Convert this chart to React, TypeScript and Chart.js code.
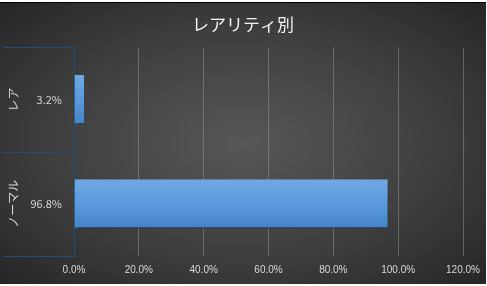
import React, { useEffect, useRef } from "react";
import { Chart, registerables } from "chart.js";

Chart.register(...registerables);

const TITLE = "レアリティ別";
const outerLabels = ["レア", "ノーマル"];
const innerLabels = ["3.2%", "96.8%"];
const shares = [0.032, 0.968];
const xTicksMax = 1.2;
const xTickStep = 0.2;

const AXIS_BLUE = "#1f4e79";
const TEXT = "#d9d9d9";
const FONT = "'Noto Sans CJK JP', 'Noto Sans', sans-serif";

const categoryPlugin = {
  id: "categoryBoxes",
  afterDraw(chart: any) {
    const { ctx, scales, chartArea } = chart;
    const y = scales.y;
    const n = outerLabels.length;
    const step = (chartArea.bottom - chartArea.top) / n;
    ctx.save();
    ctx.strokeStyle = AXIS_BLUE;
    ctx.lineWidth = 1;
    for (let i = 0; i <= n; i++) {
      const yy = Math.round(chartArea.top + step * i) + 0.5;
      ctx.beginPath();
      ctx.moveTo(3, yy);
      ctx.lineTo(chartArea.left, yy);
      ctx.stroke();
    }
    for (let i = 0; i < n; i++) {
      const cy = y.getPixelForValue(i);
      ctx.fillStyle = TEXT;
      ctx.font = `11px ${FONT}`;
      ctx.textAlign = "right";
      ctx.textBaseline = "middle";
      ctx.fillText(innerLabels[i], chartArea.left - 12, cy);
      ctx.save();
      ctx.translate(13, cy);
      ctx.rotate(-Math.PI / 2);
      ctx.textAlign = "center";
      ctx.textBaseline = "middle";
      ctx.font = `12px ${FONT}`;
      ctx.fillText(outerLabels[i], 0, 0);
      ctx.restore();
    }
    ctx.restore();
  },
};

const shadowPlugin = {
  id: "barShadow",
  beforeDatasetDraw(chart: any) {
    const ctx = chart.ctx;
    ctx.save();
    ctx.shadowColor = "rgba(0,0,0,0.55)";
    ctx.shadowBlur = 3;
    ctx.shadowOffsetX = 2;
    ctx.shadowOffsetY = 2;
  },
  afterDatasetDraw(chart: any) {
    chart.ctx.restore();
  },
};

export default function App() {
  const ref = useRef<HTMLCanvasElement | null>(null);
  useEffect(() => {
    document.body.style.margin = "0";
    const canvas = ref.current!;
    const chart = new Chart(canvas, {
      type: "bar",
      data: {
        labels: innerLabels,
        datasets: [
          {
            data: shares,
            backgroundColor: (c: any) => {
              const ch = c.chart;
              const area = ch.chartArea;
              if (!area) return "#5b9bd5";
              const yScale = ch.scales.y;
              const cy = yScale.getPixelForValue(c.dataIndex);
              const h = ((area.bottom - area.top) / outerLabels.length) * 0.47;
              const g = ch.ctx.createLinearGradient(0, cy - h / 2, 0, cy + h / 2);
              g.addColorStop(0, "#72a8de");
              g.addColorStop(0.5, "#5a9ae0");
              g.addColorStop(1, "#4583c4");
              return g;
            },
            borderColor: "#2e6aa8",
            borderWidth: { bottom: 1, top: 0, left: 0, right: 0 } as any,
            borderSkipped: false,
            barPercentage: 0.47,
            categoryPercentage: 1,
          },
        ],
      },
      options: {
        indexAxis: "y",
        animation: false,
        responsive: false,
        maintainAspectRatio: false,
        layout: { padding: { left: 0, right: 0, top: 0, bottom: 0 } },
        plugins: {
          legend: { display: false },
          tooltip: { enabled: false },
          title: {
            display: true,
            text: TITLE,
            color: "#f2f2f2",
            font: { family: FONT, size: 17, weight: "normal" },
            padding: { top: 11, bottom: 13 },
          },
        },
        scales: {
          x: {
            min: 0,
            max: xTicksMax,
            afterFit: (s: any) => {
              s.paddingRight = 23;
            },
            ticks: {
              stepSize: xTickStep,
              color: TEXT,
              font: { family: "'Liberation Sans', sans-serif", size: 10 },
              padding: 8,
              callback: (v: any) => (Number(v) * 100).toFixed(1) + "%",
            },
            grid: {
              color: "rgba(140,140,140,0.55)",
              drawTicks: false,
            },
            border: { display: false },
          },
          y: {
            afterFit: (s: any) => {
              s.width = 74;
            },
            ticks: { display: false },
            grid: { display: false, drawTicks: false },
            border: { display: true, color: AXIS_BLUE, width: 1 },
          },
        },
      },
      plugins: [shadowPlugin, categoryPlugin],
    } as any);
    return () => chart.destroy();
  }, []);

  return (
    <div
      style={{
        position: "absolute",
        left: 0,
        top: 0,
        width: 487,
        height: 286,
        background: "#ffffff",
      }}
    >
      <div
        style={{
          position: "absolute",
          left: 0,
          top: 2,
          width: 486,
          height: 282,
          borderTop: "1px solid #000",
          boxSizing: "border-box",
          background:
            "radial-gradient(ellipse farthest-corner at 50% 50%, #575757 0%, #3f3f3f 55%, #262626 100%)",
        }}
      >
        <canvas ref={ref} width={486} height={281} style={{ display: "block" }} />
      </div>
    </div>
  );
}
